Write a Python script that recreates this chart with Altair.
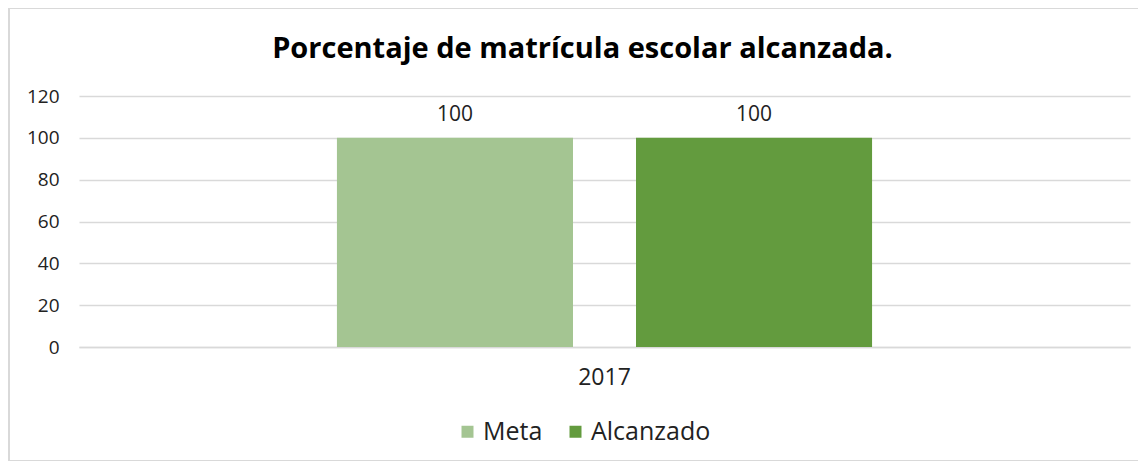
import altair as alt
import pandas as pd

years = ["2017"]
series = ["Meta", "Alcanzado"]
values = [100, 100]
colors = ["#A4C592", "#639B3E"]
y_ticks = [0, 20, 40, 60, 80, 100, 120]

df = pd.DataFrame({
    "year": [years[0]] * len(series),
    "serie": series,
    "valor": values,
})

FONT = "Open Sans"
TEXT = "#222222"
BORDER = "#D9D9D9"

x = alt.X("year:N", title=None,
          scale=alt.Scale(paddingInner=0, paddingOuter=0.482),
          axis=alt.Axis(labelAngle=0, labelFontSize=23, labelColor=TEXT, labelFont=FONT,
                        labelPadding=19, ticks=False, domainColor=BORDER,
                        domainWidth=1.5, grid=False))
xo = alt.XOffset("serie:N", sort=series,
                 scale=alt.Scale(paddingInner=0.2107, paddingOuter=0))

bars = alt.Chart(df).mark_bar().encode(
    x=x,
    xOffset=xo,
    y=alt.Y("valor:Q", title=None,
            scale=alt.Scale(domain=[0, 120], nice=False),
            axis=alt.Axis(values=y_ticks, labelFontSize=19, labelColor=TEXT, labelFont=FONT,
                          labelPadding=20, ticks=False, domain=False,
                          gridColor=BORDER, gridWidth=1.5)),
    color=alt.Color("serie:N", sort=series, title=None,
                    scale=alt.Scale(domain=series, range=colors),
                    legend=alt.Legend(orient="none", direction="horizontal",
                                      legendX=376, legendY=323,
                                      symbolType="square", symbolSize=144,
                                      symbolStrokeWidth=0, symbolOpacity=1,
                                      labelFontSize=25, labelColor=TEXT, labelFont=FONT,
                                      labelOffset=3, columnPadding=20)),
)

labels = alt.Chart(df).mark_text(baseline="bottom", dy=-13, fontSize=21,
                                 font=FONT, color=TEXT).encode(
    x=x,
    xOffset=xo,
    y=alt.Y("valor:Q"),
    text=alt.Text("valor:Q"),
)

one = pd.DataFrame({"k": [0]})
frame_left = alt.Chart(one).mark_rule(color=BORDER, strokeWidth=2).encode(
    x=alt.value(-70), y=alt.value(-88), y2=alt.value(365))
frame_top = alt.Chart(one).mark_rule(color=BORDER, strokeWidth=2).encode(
    x=alt.value(-71), x2=alt.value(1062), y=alt.value(-88))
frame_bottom = alt.Chart(one).mark_rule(color=BORDER, strokeWidth=2).encode(
    x=alt.value(-71), x2=alt.value(1062), y=alt.value(365))

chart = alt.layer(frame_left, frame_top, frame_bottom, bars, labels).properties(
    width=1051,
    height=251,
    background="white",
    title=alt.TitleParams("Porcentaje de matrícula escolar alcanzada.",
                          font=FONT, fontSize=29, fontWeight="bold", color="#000000",
                          anchor="middle", frame="group", dx=-22, offset=-57),
    autosize=alt.AutoSizeParams(type="none"),
    padding={"left": 71, "top": 88, "right": 8, "bottom": 114},
).configure_view(stroke="transparent", strokeWidth=0)

chart.save("out.html", embed_options={"renderer": "svg", "actions": False})
